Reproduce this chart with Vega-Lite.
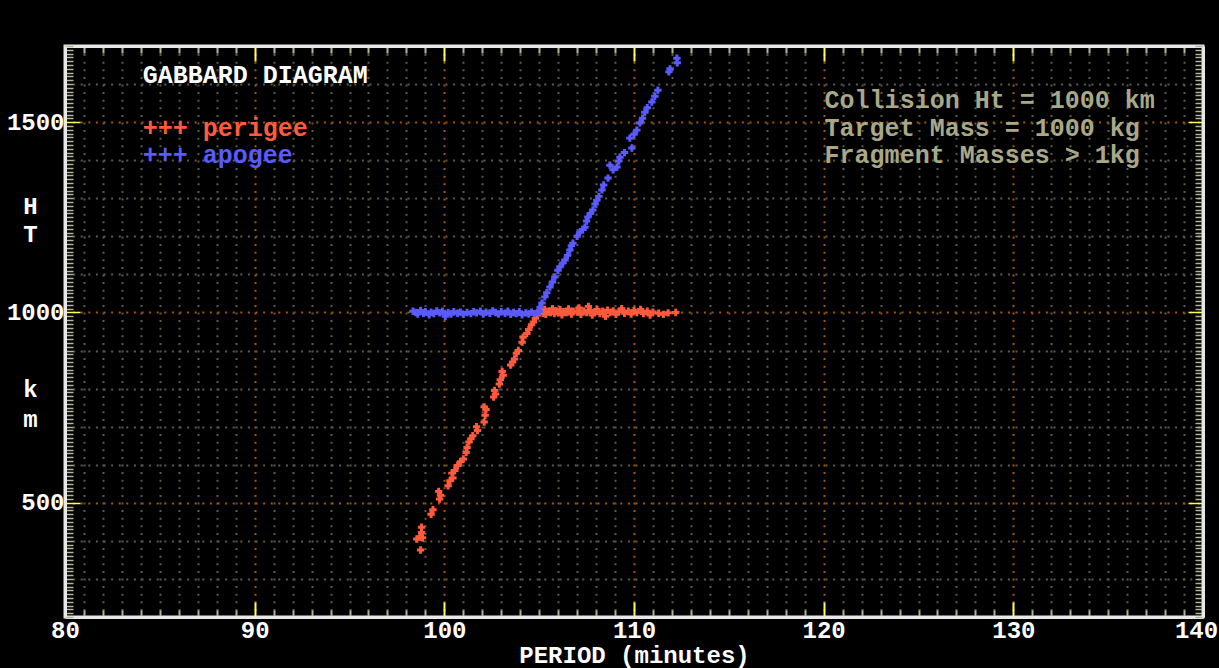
{
  "$schema": "https://vega.github.io/schema/vega-lite/v6.json",
  "width": 1138,
  "height": 571,
  "autosize": "none",
  "padding": {"left": 65, "top": 46, "right": 16, "bottom": 51},
  "background": "#000000",
  "config": {
    "view": {"stroke": "#e8e8e8", "strokeWidth": 3, "fill": "#000000"},
    "axis": {
      "domainColor": "#e8e8e8",
      "domainWidth": 3,
      "labelFont": "Liberation Mono",
      "labelFontWeight": "bold",
      "labelFontSize": 24,
      "labelColor": "#ffffff",
      "titleFont": "Liberation Mono",
      "titleFontWeight": "bold",
      "titleFontSize": 24,
      "titleColor": "#ffffff"
    }
  },
  "datasets": {
    "points": [
      {"series": "perigee", "period": 98.75, "ht": 376},
      {"series": "perigee", "period": 98.55, "ht": 405},
      {"series": "perigee", "period": 98.7, "ht": 410},
      {"series": "perigee", "period": 98.85, "ht": 408},
      {"series": "perigee", "period": 98.8, "ht": 422},
      {"series": "perigee", "period": 98.8, "ht": 436},
      {"series": "perigee", "period": 99.3, "ht": 470},
      {"series": "perigee", "period": 99.4, "ht": 482},
      {"series": "perigee", "period": 99.75, "ht": 510},
      {"series": "perigee", "period": 99.8, "ht": 520},
      {"series": "perigee", "period": 99.7, "ht": 530},
      {"series": "perigee", "period": 100.2, "ht": 545},
      {"series": "perigee", "period": 100.3, "ht": 558},
      {"series": "perigee", "period": 100.45, "ht": 565},
      {"series": "perigee", "period": 100.4, "ht": 578},
      {"series": "perigee", "period": 100.55, "ht": 585},
      {"series": "perigee", "period": 100.7, "ht": 598},
      {"series": "perigee", "period": 100.85, "ht": 608},
      {"series": "perigee", "period": 101.0, "ht": 615},
      {"series": "perigee", "period": 101.15, "ht": 632},
      {"series": "perigee", "period": 101.2, "ht": 645},
      {"series": "perigee", "period": 101.3, "ht": 660},
      {"series": "perigee", "period": 101.4, "ht": 668},
      {"series": "perigee", "period": 101.5, "ht": 676},
      {"series": "perigee", "period": 101.75, "ht": 690},
      {"series": "perigee", "period": 101.7, "ht": 700},
      {"series": "perigee", "period": 102.1, "ht": 712},
      {"series": "perigee", "period": 102.15, "ht": 730},
      {"series": "perigee", "period": 102.2, "ht": 745},
      {"series": "perigee", "period": 102.1, "ht": 752},
      {"series": "perigee", "period": 102.6, "ht": 778},
      {"series": "perigee", "period": 102.7, "ht": 786},
      {"series": "perigee", "period": 102.65, "ht": 795},
      {"series": "perigee", "period": 102.9, "ht": 812},
      {"series": "perigee", "period": 102.95, "ht": 823},
      {"series": "perigee", "period": 103.1, "ht": 835},
      {"series": "perigee", "period": 103.05, "ht": 845},
      {"series": "perigee", "period": 103.5, "ht": 862},
      {"series": "perigee", "period": 103.6, "ht": 870},
      {"series": "perigee", "period": 103.7, "ht": 878},
      {"series": "perigee", "period": 103.8, "ht": 893},
      {"series": "perigee", "period": 103.9, "ht": 900},
      {"series": "perigee", "period": 104.1, "ht": 922},
      {"series": "perigee", "period": 104.15, "ht": 935},
      {"series": "perigee", "period": 104.35, "ht": 945},
      {"series": "perigee", "period": 104.45, "ht": 955},
      {"series": "perigee", "period": 104.6, "ht": 968},
      {"series": "perigee", "period": 104.7, "ht": 975},
      {"series": "perigee", "period": 104.8, "ht": 985},
      {"series": "perigee", "period": 104.9, "ht": 993},
      {"series": "perigee", "period": 105.0, "ht": 1002},
      {"series": "perigee", "period": 105.1, "ht": 1005},
      {"series": "perigee", "period": 105.2, "ht": 998},
      {"series": "perigee", "period": 105.3, "ht": 1008},
      {"series": "perigee", "period": 105.35, "ht": 995},
      {"series": "perigee", "period": 105.5, "ht": 1003},
      {"series": "perigee", "period": 105.6, "ht": 1000},
      {"series": "perigee", "period": 105.7, "ht": 1010},
      {"series": "perigee", "period": 105.8, "ht": 997},
      {"series": "perigee", "period": 105.9, "ht": 1004},
      {"series": "perigee", "period": 106.0, "ht": 999},
      {"series": "perigee", "period": 106.1, "ht": 1007},
      {"series": "perigee", "period": 106.2, "ht": 994},
      {"series": "perigee", "period": 106.3, "ht": 1002},
      {"series": "perigee", "period": 106.45, "ht": 1000},
      {"series": "perigee", "period": 106.55, "ht": 1009},
      {"series": "perigee", "period": 106.7, "ht": 996},
      {"series": "perigee", "period": 106.8, "ht": 1003},
      {"series": "perigee", "period": 107.0, "ht": 1001},
      {"series": "perigee", "period": 107.1, "ht": 1012},
      {"series": "perigee", "period": 107.2, "ht": 995},
      {"series": "perigee", "period": 107.35, "ht": 1004},
      {"series": "perigee", "period": 107.5, "ht": 1000},
      {"series": "perigee", "period": 107.6, "ht": 1016},
      {"series": "perigee", "period": 107.7, "ht": 1005},
      {"series": "perigee", "period": 107.8, "ht": 993},
      {"series": "perigee", "period": 107.95, "ht": 1002},
      {"series": "perigee", "period": 108.05, "ht": 1008},
      {"series": "perigee", "period": 108.2, "ht": 997},
      {"series": "perigee", "period": 108.35, "ht": 1003},
      {"series": "perigee", "period": 108.5, "ht": 990},
      {"series": "perigee", "period": 108.6, "ht": 1006},
      {"series": "perigee", "period": 108.75, "ht": 1000},
      {"series": "perigee", "period": 108.9, "ht": 1004},
      {"series": "perigee", "period": 109.05, "ht": 995},
      {"series": "perigee", "period": 109.2, "ht": 1002},
      {"series": "perigee", "period": 109.35, "ht": 1010},
      {"series": "perigee", "period": 109.5, "ht": 998},
      {"series": "perigee", "period": 109.7, "ht": 1003},
      {"series": "perigee", "period": 109.85, "ht": 996},
      {"series": "perigee", "period": 110.0, "ht": 1005},
      {"series": "perigee", "period": 110.15, "ht": 1000},
      {"series": "perigee", "period": 110.35, "ht": 1008},
      {"series": "perigee", "period": 110.5, "ht": 997},
      {"series": "perigee", "period": 110.7, "ht": 1003},
      {"series": "perigee", "period": 110.85, "ht": 993},
      {"series": "perigee", "period": 111.0, "ht": 1001},
      {"series": "perigee", "period": 111.3, "ht": 998},
      {"series": "perigee", "period": 111.55, "ht": 995},
      {"series": "perigee", "period": 111.8, "ht": 999},
      {"series": "perigee", "period": 112.2, "ht": 1000},
      {"series": "apogee", "period": 98.35, "ht": 1003},
      {"series": "apogee", "period": 98.5, "ht": 1000},
      {"series": "apogee", "period": 98.6, "ht": 996},
      {"series": "apogee", "period": 98.75, "ht": 1005},
      {"series": "apogee", "period": 98.9, "ht": 998},
      {"series": "apogee", "period": 99.0, "ht": 1002},
      {"series": "apogee", "period": 99.2, "ht": 994},
      {"series": "apogee", "period": 99.3, "ht": 1001},
      {"series": "apogee", "period": 99.45, "ht": 997},
      {"series": "apogee", "period": 99.6, "ht": 1004},
      {"series": "apogee", "period": 99.75, "ht": 999},
      {"series": "apogee", "period": 99.9, "ht": 1003},
      {"series": "apogee", "period": 100.05, "ht": 990},
      {"series": "apogee", "period": 100.2, "ht": 1000},
      {"series": "apogee", "period": 100.35, "ht": 996},
      {"series": "apogee", "period": 100.5, "ht": 1002},
      {"series": "apogee", "period": 100.7, "ht": 998},
      {"series": "apogee", "period": 100.85, "ht": 1001},
      {"series": "apogee", "period": 101.0, "ht": 995},
      {"series": "apogee", "period": 101.2, "ht": 1000},
      {"series": "apogee", "period": 101.4, "ht": 997},
      {"series": "apogee", "period": 101.55, "ht": 1002},
      {"series": "apogee", "period": 101.7, "ht": 999},
      {"series": "apogee", "period": 101.9, "ht": 1003},
      {"series": "apogee", "period": 102.05, "ht": 996},
      {"series": "apogee", "period": 102.2, "ht": 1001},
      {"series": "apogee", "period": 102.4, "ht": 998},
      {"series": "apogee", "period": 102.55, "ht": 1004},
      {"series": "apogee", "period": 102.7, "ht": 1000},
      {"series": "apogee", "period": 102.85, "ht": 996},
      {"series": "apogee", "period": 103.0, "ht": 1002},
      {"series": "apogee", "period": 103.2, "ht": 998},
      {"series": "apogee", "period": 103.35, "ht": 1003},
      {"series": "apogee", "period": 103.5, "ht": 995},
      {"series": "apogee", "period": 103.65, "ht": 1000},
      {"series": "apogee", "period": 103.8, "ht": 997},
      {"series": "apogee", "period": 103.95, "ht": 1002},
      {"series": "apogee", "period": 104.1, "ht": 994},
      {"series": "apogee", "period": 104.3, "ht": 999},
      {"series": "apogee", "period": 104.45, "ht": 996},
      {"series": "apogee", "period": 104.6, "ht": 1001},
      {"series": "apogee", "period": 104.75, "ht": 997},
      {"series": "apogee", "period": 104.9, "ht": 1000},
      {"series": "apogee", "period": 105.0, "ht": 1003},
      {"series": "apogee", "period": 105.05, "ht": 1014},
      {"series": "apogee", "period": 105.15, "ht": 1025},
      {"series": "apogee", "period": 105.3, "ht": 1041},
      {"series": "apogee", "period": 105.4, "ht": 1052},
      {"series": "apogee", "period": 105.57, "ht": 1067},
      {"series": "apogee", "period": 105.7, "ht": 1080},
      {"series": "apogee", "period": 105.83, "ht": 1093},
      {"series": "apogee", "period": 105.99, "ht": 1111},
      {"series": "apogee", "period": 106.1, "ht": 1120},
      {"series": "apogee", "period": 106.25, "ht": 1130},
      {"series": "apogee", "period": 106.36, "ht": 1138},
      {"series": "apogee", "period": 106.5, "ht": 1150},
      {"series": "apogee", "period": 106.62, "ht": 1164},
      {"series": "apogee", "period": 106.7, "ht": 1175},
      {"series": "apogee", "period": 106.78, "ht": 1182},
      {"series": "apogee", "period": 107.0, "ht": 1200},
      {"series": "apogee", "period": 107.15, "ht": 1211},
      {"series": "apogee", "period": 107.3, "ht": 1218},
      {"series": "apogee", "period": 107.41, "ht": 1224},
      {"series": "apogee", "period": 107.5, "ht": 1240},
      {"series": "apogee", "period": 107.57, "ht": 1251},
      {"series": "apogee", "period": 107.7, "ht": 1260},
      {"series": "apogee", "period": 107.83, "ht": 1269},
      {"series": "apogee", "period": 107.95, "ht": 1285},
      {"series": "apogee", "period": 108.04, "ht": 1295},
      {"series": "apogee", "period": 108.15, "ht": 1305},
      {"series": "apogee", "period": 108.31, "ht": 1322},
      {"series": "apogee", "period": 108.4, "ht": 1335},
      {"series": "apogee", "period": 108.63, "ht": 1353},
      {"series": "apogee", "period": 108.73, "ht": 1387},
      {"series": "apogee", "period": 108.9, "ht": 1375},
      {"series": "apogee", "period": 109.1, "ht": 1382},
      {"series": "apogee", "period": 109.2, "ht": 1398},
      {"series": "apogee", "period": 109.26, "ht": 1408},
      {"series": "apogee", "period": 109.5, "ht": 1420},
      {"series": "apogee", "period": 109.78, "ht": 1458},
      {"series": "apogee", "period": 109.89, "ht": 1432},
      {"series": "apogee", "period": 110.0, "ht": 1468},
      {"series": "apogee", "period": 110.15, "ht": 1479},
      {"series": "apogee", "period": 110.31, "ht": 1498},
      {"series": "apogee", "period": 110.45, "ht": 1510},
      {"series": "apogee", "period": 110.57, "ht": 1526},
      {"series": "apogee", "period": 110.7, "ht": 1538},
      {"series": "apogee", "period": 110.94, "ht": 1553},
      {"series": "apogee", "period": 111.1, "ht": 1568},
      {"series": "apogee", "period": 111.26, "ht": 1584},
      {"series": "apogee", "period": 111.84, "ht": 1632},
      {"series": "apogee", "period": 111.9, "ht": 1640},
      {"series": "apogee", "period": 112.26, "ht": 1668},
      {"series": "apogee", "period": 112.28, "ht": 1656}
    ],
    "legend": [
      {"series": "perigee", "label": "+++ perigee", "period": 84.1, "ht": 1484},
      {"series": "apogee", "label": "+++ apogee", "period": 84.1, "ht": 1413}
    ],
    "notes": [
      {"label": "GABBARD DIAGRAM", "period": 84.1, "ht": 1624, "kind": "title"},
      {"label": "Collision Ht = 1000 km", "period": 120.05, "ht": 1558, "kind": "info"},
      {"label": "Target Mass = 1000 kg", "period": 120.05, "ht": 1484, "kind": "info"},
      {"label": "Fragment Masses > 1kg", "period": 120.05, "ht": 1413, "kind": "info"}
    ]
  },
  "layer": [
    {
      "data": {"name": "points"},
      "mark": {"type": "point", "shape": "cross", "filled": true, "size": 55, "opacity": 1, "strokeWidth": 0},
      "encoding": {
        "x": {
          "field": "period", "type": "quantitative",
          "scale": {"domain": [80, 140], "nice": false, "zero": false},
          "axis": {
            "orient": "bottom",
            "title": "PERIOD (minutes)",
            "titlePadding": -7,
            "values": [80,81,82,83,84,85,86,87,88,89,90,91,92,93,94,95,96,97,98,99,100,101,102,103,104,105,106,107,108,109,110,111,112,113,114,115,116,117,118,119,120,121,122,123,124,125,126,127,128,129,130,131,132,133,134,135,136,137,138,139,140],
            "labelExpr": "datum.value % 10 === 0 ? datum.label : ''",
            "labelOverlap": false,
            "labelFlush": false,
            "labelPadding": 16,
            "labelOffset": {"condition": {"test": "datum.value === 140", "value": -7}, "value": 0},
            "tickSize": {"condition": {"test": "datum.value % 10 === 0", "value": -15}, "value": -7},
            "tickColor": {"condition": {"test": "datum.value % 10 === 0", "value": "#ffff55"}, "value": "#b4b496"},
            "tickWidth": 2,
            "grid": true,
            "gridColor": {"condition": {"test": "datum.value % 10 === 0", "value": "#aa5500"}, "value": "#5c5c48"},
            "gridDash": [2, 5.6],
            "gridWidth": 2
          }
        },
        "y": {
          "field": "ht", "type": "quantitative",
          "scale": {"domain": [200, 1700], "nice": false, "zero": false},
          "axis": {
            "orient": "left",
            "title": ["H", "T"],
            "titleAngle": 0,
            "titleAlign": "center",
            "titleBaseline": "top",
            "titleLineHeight": 28,
            "titleX": -35,
            "titleY": 148,
            "values": [200,210,220,230,240,250,260,270,280,290,300,310,320,330,340,350,360,370,380,390,400,410,420,430,440,450,460,470,480,490,500,510,520,530,540,550,560,570,580,590,600,610,620,630,640,650,660,670,680,690,700,710,720,730,740,750,760,770,780,790,800,810,820,830,840,850,860,870,880,890,900,910,920,930,940,950,960,970,980,990,1000,1010,1020,1030,1040,1050,1060,1070,1080,1090,1100,1110,1120,1130,1140,1150,1160,1170,1180,1190,1200,1210,1220,1230,1240,1250,1260,1270,1280,1290,1300,1310,1320,1330,1340,1350,1360,1370,1380,1390,1400,1410,1420,1430,1440,1450,1460,1470,1480,1490,1500,1510,1520,1530,1540,1550,1560,1570,1580,1590,1600,1610,1620,1630,1640,1650,1660,1670,1680,1690,1700],
            "labelExpr": "datum.value % 500 === 0 ? datum.label : ''",
            "format": "d",
            "labelOverlap": false,
            "labelFlush": false,
            "labelPadding": 16,
            "tickSize": {"condition": {"test": "datum.value % 500 === 0", "value": -15}, "value": -8},
            "tickColor": {"condition": {"test": "datum.value % 500 === 0", "value": "#ffff55"}, "value": "#b4b496"},
            "tickWidth": 1.5,
            "grid": true,
            "gridColor": {"condition": {"test": "datum.value % 500 === 0", "value": "#aa5500"}, "value": "#5c5c48"},
            "gridOpacity": {"condition": {"test": "datum.value % 100 === 0", "value": 1}, "value": 0},
            "gridDash": [2, 5.6],
            "gridWidth": 2
          }
        },
        "color": {
          "field": "series", "type": "nominal",
          "scale": {"domain": ["perigee", "apogee"], "range": ["#ff5a3c", "#5a5aff"]},
          "legend": null
        }
      }
    },
    {
      "data": {"name": "notes"},
      "mark": {"type": "text", "align": "left", "baseline": "middle", "font": "Liberation Mono", "fontWeight": "bold", "fontSize": 25},
      "encoding": {
        "x": {
          "field": "period", "type": "quantitative",
          "axis": {
            "orient": "top", "title": null, "labels": false, "grid": false,
            "values": [80,81,82,83,84,85,86,87,88,89,90,91,92,93,94,95,96,97,98,99,100,101,102,103,104,105,106,107,108,109,110,111,112,113,114,115,116,117,118,119,120,121,122,123,124,125,126,127,128,129,130,131,132,133,134,135,136,137,138,139,140],
            "tickSize": {"condition": {"test": "datum.value % 10 === 0", "value": -15}, "value": -7},
            "tickColor": {"condition": {"test": "datum.value % 10 === 0", "value": "#ffff55"}, "value": "#b4b496"},
            "tickWidth": 2
          }
        },
        "y": {
          "field": "ht", "type": "quantitative",
          "axis": {
            "orient": "right", "title": null, "labels": false, "grid": false,
            "values": [200,210,220,230,240,250,260,270,280,290,300,310,320,330,340,350,360,370,380,390,400,410,420,430,440,450,460,470,480,490,500,510,520,530,540,550,560,570,580,590,600,610,620,630,640,650,660,670,680,690,700,710,720,730,740,750,760,770,780,790,800,810,820,830,840,850,860,870,880,890,900,910,920,930,940,950,960,970,980,990,1000,1010,1020,1030,1040,1050,1060,1070,1080,1090,1100,1110,1120,1130,1140,1150,1160,1170,1180,1190,1200,1210,1220,1230,1240,1250,1260,1270,1280,1290,1300,1310,1320,1330,1340,1350,1360,1370,1380,1390,1400,1410,1420,1430,1440,1450,1460,1470,1480,1490,1500,1510,1520,1530,1540,1550,1560,1570,1580,1590,1600,1610,1620,1630,1640,1650,1660,1670,1680,1690,1700],
            "tickSize": {"condition": {"test": "datum.value % 500 === 0", "value": -15}, "value": -8},
            "tickColor": {"condition": {"test": "datum.value % 500 === 0", "value": "#ffff55"}, "value": "#b4b496"},
            "tickWidth": 1.5
          }
        },
        "text": {"field": "label"},
        "color": {
          "condition": {"test": "datum.kind === 'title'", "value": "#ffffff"},
          "value": "#a8a888"
        }
      }
    },
    {
      "data": {"name": "legend"},
      "mark": {"type": "text", "align": "left", "baseline": "middle", "font": "Liberation Mono", "fontWeight": "bold", "fontSize": 25},
      "encoding": {
        "x": {"field": "period", "type": "quantitative", "axis": null},
        "y": {
          "field": "ht", "type": "quantitative",
          "axis": {
            "orient": "left",
            "title": ["k", "m"],
            "titleAngle": 0,
            "titleAlign": "center",
            "titleBaseline": "top",
            "titleLineHeight": 30,
            "titleX": -35,
            "titleY": 331,
            "labels": false,
            "ticks": false,
            "domain": false,
            "grid": false
          }
        },
        "text": {"field": "label"},
        "color": {"field": "series", "type": "nominal", "legend": null}
      }
    }
  ],
  "resolve": {"axis": {"x": "independent", "y": "independent"}}
}
